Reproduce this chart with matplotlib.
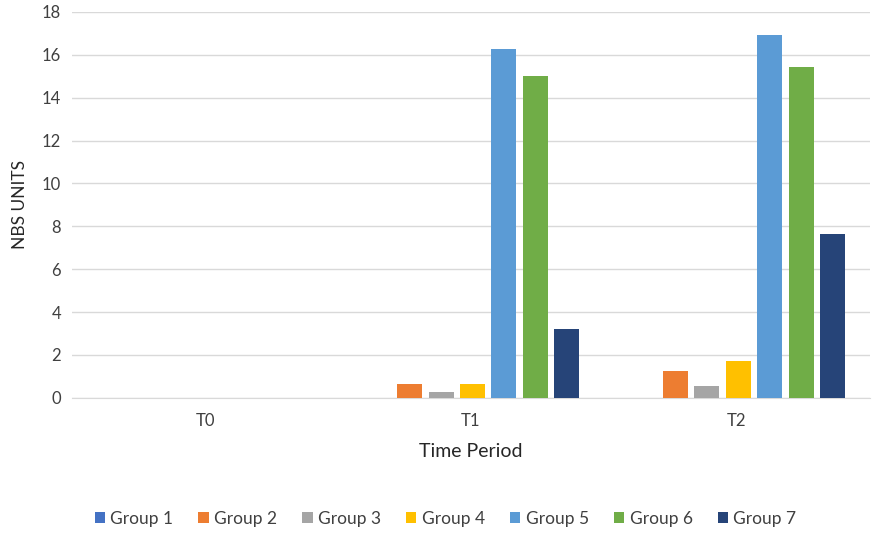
import matplotlib.pyplot as plt
import numpy as np

plt.rcParams['font.family'] = ['Lato', 'DejaVu Sans']

periods = ['T0', 'T1', 'T2']
groups = ['Group 1', 'Group 2', 'Group 3', 'Group 4', 'Group 5', 'Group 6', 'Group 7']
colores = ['#4472C4', '#ED7D31', '#A5A5A5', '#FFC000', '#5B9BD5', '#70AD47', '#264478']

valores = [
    [0, 0, 0],        # Group 1
    [0, 0.64, 1.24],  # Group 2
    [0, 0.27, 0.56],  # Group 3
    [0, 0.64, 1.70],  # Group 4
    [0, 16.26, 16.92],# Group 5
    [0, 15.02, 15.42],# Group 6
    [0, 3.20, 7.63],  # Group 7
]

fig = plt.figure(figsize=(8.91, 5.42), dpi=100, facecolor='w')
ax = fig.add_axes([0.081, 0.266, 0.895, 0.712])

x = np.arange(len(periods))
paso = 0.118
ancho = 0.094
for ii, (g, c, v) in enumerate(zip(groups, colores, valores)):
    ax.bar(x + (ii - 3) * paso + 0.006, v, ancho, color=c, label=g, zorder=3)

ax.set_xlim(-0.5, 2.5)
ax.set_ylim(0, 18)
ax.set_yticks(np.arange(0, 19, 2))
ax.set_xticks(x)
ax.set_xticklabels(periods)
ax.grid(axis='y', color='#D9D9D9', linewidth=1, zorder=0)
for s in ['top', 'right', 'left']:
    ax.spines[s].set_visible(False)
ax.spines['bottom'].set_color('#D9D9D9')
ax.tick_params(axis='both', length=0, labelsize=12, colors='#404040', pad=8)
ax.tick_params(axis='x', pad=11)

ax.set_xlabel('Time Period', fontsize=14, color='#262626', labelpad=10)
ax.set_ylabel('NBS UNITS', fontsize=12.5, color='#262626', labelpad=10)

fig.legend(loc='center', bbox_to_anchor=(0.5, 0.043), ncol=7, frameon=False,
           fontsize=12.5, handlelength=0.6, handleheight=0.6, handletextpad=0.3,
           columnspacing=1.45, labelcolor='#404040')

plt.savefig('out.png', dpi=100)
